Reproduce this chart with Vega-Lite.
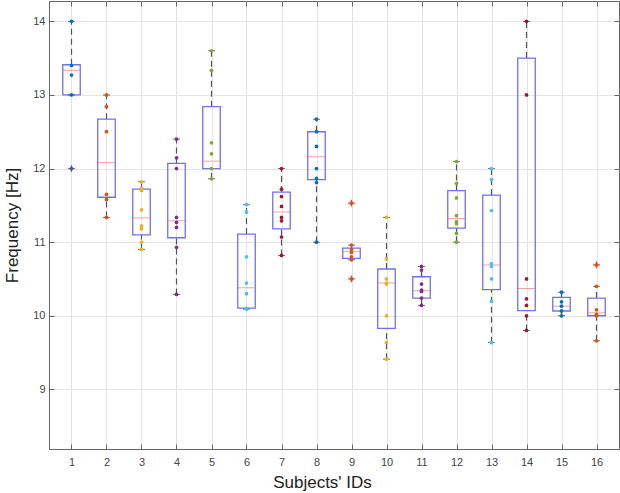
{
  "$schema": "https://vega.github.io/schema/vega-lite/v6.json",
  "width": 570,
  "height": 448,
  "autosize": {"type": "none"},
  "padding": {"left": 49, "top": 1, "right": 1, "bottom": 44},
  "background": "white",
  "resolve": {"axis": {"x": "independent", "y": "independent"}},
  "config": {
    "view": {"stroke": "#666", "strokeWidth": 1},
    "axis": {
      "labelFont": "Liberation Sans",
      "labelFontSize": 11,
      "labelColor": "#444",
      "titleFont": "Liberation Sans",
      "titleFontSize": 17,
      "titleFontWeight": "normal",
      "titleColor": "#222",
      "domainColor": "#666",
      "tickColor": "#666",
      "gridColor": "#e4e4e4",
      "gridWidth": 1
    }
  },
  "datasets": {
    "boxes": [
      {"subject": 1, "q1": 13.0, "med": 13.335, "q3": 13.41, "lo": 13.0, "hi": 14.0},
      {"subject": 2, "q1": 11.61, "med": 12.08, "q3": 12.67, "lo": 11.335, "hi": 13.0},
      {"subject": 3, "q1": 11.1, "med": 11.33, "q3": 11.72, "lo": 10.9, "hi": 11.82},
      {"subject": 4, "q1": 11.06, "med": 11.29, "q3": 12.07, "lo": 10.29, "hi": 12.4},
      {"subject": 5, "q1": 12.0, "med": 12.1, "q3": 12.84, "lo": 11.86, "hi": 13.6},
      {"subject": 6, "q1": 10.105, "med": 10.38, "q3": 11.11, "lo": 10.09, "hi": 11.51},
      {"subject": 7, "q1": 11.18, "med": 11.41, "q3": 11.68, "lo": 10.82, "hi": 12.0},
      {"subject": 8, "q1": 11.85, "med": 12.16, "q3": 12.5, "lo": 11.0, "hi": 12.67},
      {"subject": 9, "q1": 10.78, "med": 10.87, "q3": 10.92, "lo": 10.76, "hi": 10.96},
      {"subject": 10, "q1": 9.83, "med": 10.445, "q3": 10.635, "lo": 9.41, "hi": 11.335},
      {"subject": 11, "q1": 10.24, "med": 10.34, "q3": 10.53, "lo": 10.14, "hi": 10.67},
      {"subject": 12, "q1": 11.19, "med": 11.32, "q3": 11.7, "lo": 11.0, "hi": 12.095},
      {"subject": 13, "q1": 10.355, "med": 10.69, "q3": 11.64, "lo": 9.635, "hi": 12.0},
      {"subject": 14, "q1": 10.07, "med": 10.37, "q3": 13.5, "lo": 9.8, "hi": 14.0},
      {"subject": 15, "q1": 10.065, "med": 10.13, "q3": 10.25, "lo": 10.0, "hi": 10.32},
      {"subject": 16, "q1": 10.0, "med": 10.04, "q3": 10.24, "lo": 9.66, "hi": 10.4}
    ],
    "outliers": [
      {"subject": 1, "freq": 12.0},
      {"subject": 9, "freq": 11.53},
      {"subject": 9, "freq": 10.5},
      {"subject": 16, "freq": 10.69}
    ],
    "points": [
      {"subject": 1, "freq": 14.0}, {"subject": 1, "freq": 13.4}, {"subject": 1, "freq": 13.27}, {"subject": 1, "freq": 13.0}, {"subject": 1, "freq": 12.0},
      {"subject": 2, "freq": 13.0}, {"subject": 2, "freq": 12.84}, {"subject": 2, "freq": 12.5}, {"subject": 2, "freq": 11.65}, {"subject": 2, "freq": 11.58}, {"subject": 2, "freq": 11.335},
      {"subject": 3, "freq": 11.82}, {"subject": 3, "freq": 11.73}, {"subject": 3, "freq": 11.7}, {"subject": 3, "freq": 11.44}, {"subject": 3, "freq": 11.22}, {"subject": 3, "freq": 11.18}, {"subject": 3, "freq": 11.0}, {"subject": 3, "freq": 10.9},
      {"subject": 4, "freq": 12.4}, {"subject": 4, "freq": 12.145}, {"subject": 4, "freq": 12.0}, {"subject": 4, "freq": 11.335}, {"subject": 4, "freq": 11.27}, {"subject": 4, "freq": 11.2}, {"subject": 4, "freq": 10.93}, {"subject": 4, "freq": 10.29},
      {"subject": 5, "freq": 13.6}, {"subject": 5, "freq": 13.335}, {"subject": 5, "freq": 12.35}, {"subject": 5, "freq": 12.2}, {"subject": 5, "freq": 12.0}, {"subject": 5, "freq": 11.86},
      {"subject": 6, "freq": 11.51}, {"subject": 6, "freq": 11.41}, {"subject": 6, "freq": 10.8}, {"subject": 6, "freq": 10.445}, {"subject": 6, "freq": 10.3}, {"subject": 6, "freq": 10.1}, {"subject": 6, "freq": 10.09},
      {"subject": 7, "freq": 12.0}, {"subject": 7, "freq": 11.72}, {"subject": 7, "freq": 11.62}, {"subject": 7, "freq": 11.485}, {"subject": 7, "freq": 11.335}, {"subject": 7, "freq": 11.29}, {"subject": 7, "freq": 11.07}, {"subject": 7, "freq": 10.82},
      {"subject": 8, "freq": 12.67}, {"subject": 8, "freq": 12.5}, {"subject": 8, "freq": 12.3}, {"subject": 8, "freq": 12.0}, {"subject": 8, "freq": 11.865}, {"subject": 8, "freq": 11.81}, {"subject": 8, "freq": 11.0},
      {"subject": 9, "freq": 11.53}, {"subject": 9, "freq": 10.96}, {"subject": 9, "freq": 10.9}, {"subject": 9, "freq": 10.86}, {"subject": 9, "freq": 10.8}, {"subject": 9, "freq": 10.76}, {"subject": 9, "freq": 10.5},
      {"subject": 10, "freq": 11.335}, {"subject": 10, "freq": 10.77}, {"subject": 10, "freq": 10.5}, {"subject": 10, "freq": 10.445}, {"subject": 10, "freq": 10.43}, {"subject": 10, "freq": 10.0}, {"subject": 10, "freq": 9.64}, {"subject": 10, "freq": 9.41},
      {"subject": 11, "freq": 10.67}, {"subject": 11, "freq": 10.62}, {"subject": 11, "freq": 10.43}, {"subject": 11, "freq": 10.35}, {"subject": 11, "freq": 10.33}, {"subject": 11, "freq": 10.24}, {"subject": 11, "freq": 10.14},
      {"subject": 12, "freq": 12.095}, {"subject": 12, "freq": 11.8}, {"subject": 12, "freq": 11.6}, {"subject": 12, "freq": 11.36}, {"subject": 12, "freq": 11.28}, {"subject": 12, "freq": 11.25}, {"subject": 12, "freq": 11.12}, {"subject": 12, "freq": 11.0},
      {"subject": 13, "freq": 12.0}, {"subject": 13, "freq": 11.85}, {"subject": 13, "freq": 11.43}, {"subject": 13, "freq": 10.71}, {"subject": 13, "freq": 10.67}, {"subject": 13, "freq": 10.5}, {"subject": 13, "freq": 10.195}, {"subject": 13, "freq": 9.635},
      {"subject": 14, "freq": 14.0}, {"subject": 14, "freq": 13.0}, {"subject": 14, "freq": 10.5}, {"subject": 14, "freq": 10.23}, {"subject": 14, "freq": 10.14}, {"subject": 14, "freq": 10.0}, {"subject": 14, "freq": 9.8},
      {"subject": 15, "freq": 10.32}, {"subject": 15, "freq": 10.19}, {"subject": 15, "freq": 10.13}, {"subject": 15, "freq": 10.065}, {"subject": 15, "freq": 10.0},
      {"subject": 16, "freq": 10.69}, {"subject": 16, "freq": 10.4}, {"subject": 16, "freq": 10.08}, {"subject": 16, "freq": 10.02}, {"subject": 16, "freq": 10.0}, {"subject": 16, "freq": 9.66}
    ]
  },
  "layer": [
    {
      "data": {"name": "boxes"},
      "mark": {"type": "rule", "strokeDash": [6, 4], "color": "#555", "strokeWidth": 1.2},
      "encoding": {
        "x": {"field": "subject", "type": "quantitative", "scale": {"domain": [0.5, 16.5], "nice": false, "zero": false},
          "axis": {"values": [1,2,3,4,5,6,7,8,9,10,11,12,13,14,15,16], "format": "d", "grid": true, "tickSize": -5, "labelPadding": 12, "title": "Subjects' IDs", "titleX": 273, "titleY": 38, "titleBaseline": "alphabetic", "titleAlign": "center"}},
        "y": {"field": "q3", "type": "quantitative", "scale": {"domain": [8.19, 14.276], "nice": false, "zero": false},
          "axis": {"values": [9,10,11,12,13,14], "format": "d", "grid": true, "tickSize": -5, "labelPadding": 9, "title": "Frequency [Hz]", "titleX": -37, "titleY": 224, "titleAngle": -90, "titleAlign": "center", "titleBaseline": "middle"}},
        "y2": {"field": "hi"}
      }
    },
    {
      "data": {"name": "boxes"},
      "mark": {"type": "rule", "strokeDash": [6, 4], "color": "#555", "strokeWidth": 1.2},
      "encoding": {
        "x": {"field": "subject", "type": "quantitative", "axis": null},
        "y": {"field": "lo", "type": "quantitative", "axis": null},
        "y2": {"field": "q1"}
      }
    },
    {
      "data": {"name": "boxes"},
      "mark": {"type": "bar", "width": 17.5, "fill": "transparent", "stroke": "#7070f0", "strokeWidth": 1.3},
      "encoding": {
        "x": {"field": "subject", "type": "quantitative", "axis": null},
        "y": {"field": "q1", "type": "quantitative", "axis": null},
        "y2": {"field": "q3"}
      }
    },
    {
      "data": {"name": "boxes"},
      "mark": {"type": "tick", "orient": "horizontal", "size": 17.5, "thickness": 1, "color": "#f07878"},
      "encoding": {
        "x": {"field": "subject", "type": "quantitative", "axis": null},
        "y": {"field": "med", "type": "quantitative", "axis": null}
      }
    },
    {
      "data": {"name": "boxes"},
      "mark": {"type": "tick", "orient": "horizontal", "size": 7, "thickness": 1, "color": "#333"},
      "encoding": {
        "x": {"field": "subject", "type": "quantitative", "axis": null},
        "y": {"field": "hi", "type": "quantitative", "axis": null}
      }
    },
    {
      "data": {"name": "boxes"},
      "mark": {"type": "tick", "orient": "horizontal", "size": 7, "thickness": 1, "color": "#333"},
      "encoding": {
        "x": {"field": "subject", "type": "quantitative", "axis": null},
        "y": {"field": "lo", "type": "quantitative", "axis": null}
      }
    },
    {
      "data": {"name": "outliers"},
      "mark": {"type": "point", "shape": "M-1,0H1M0,-1V1", "filled": false, "color": "#ee3b3b", "strokeWidth": 1.3, "size": 45, "opacity": 1},
      "encoding": {
        "x": {"field": "subject", "type": "quantitative", "axis": {"orient": "top", "values": [1,2,3,4,5,6,7,8,9,10,11,12,13,14,15,16], "labels": false, "tickSize": -5, "domain": false, "grid": false, "title": null}},
        "y": {"field": "freq", "type": "quantitative", "axis": {"orient": "right", "values": [9,10,11,12,13,14], "labels": false, "tickSize": -5, "domain": false, "grid": false, "title": null}}
      }
    },
    {
      "data": {"name": "points"},
      "mark": {"type": "circle", "size": 14, "opacity": 1},
      "encoding": {
        "x": {"field": "subject", "type": "quantitative", "axis": null},
        "y": {"field": "freq", "type": "quantitative", "axis": null},
        "color": {"field": "subject", "type": "nominal", "legend": null,
          "scale": {"domain": [1,2,3,4,5,6,7,8,9,10,11,12,13,14,15,16],
            "range": ["#0072BD","#D95319","#EDB120","#7E2F8E","#77AC30","#4DBEEE","#A2142F","#0072BD","#D95319","#EDB120","#7E2F8E","#77AC30","#4DBEEE","#A2142F","#0072BD","#D95319"]}}
      }
    }
  ]
}
